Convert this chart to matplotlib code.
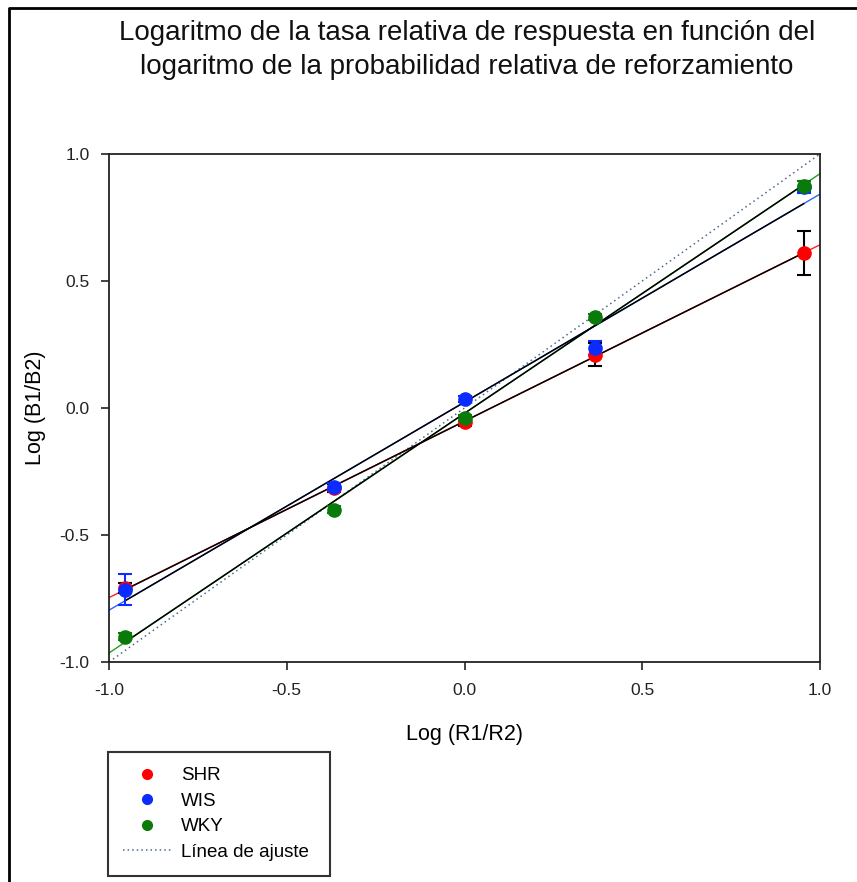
import numpy as np
import matplotlib
matplotlib.use("Agg")
import matplotlib.pyplot as plt
from matplotlib.lines import Line2D

plt.rcParams['font.family'] = ['Liberation Sans', 'DejaVu Sans']

# Log of relative reinforcement probability (0.1/0.9, 0.3/0.7, 0.5/0.5, 0.7/0.3, 0.9/0.1)
log_r = [-0.954, -0.368, 0.0, 0.368, 0.954]

strains = ["SHR", "WIS", "WKY"]
shr_y = [-0.71, -0.315, -0.055, 0.21, 0.61]
shr_err = [0.02, 0.015, 0.015, 0.045, 0.085]
wis_y = [-0.715, -0.31, 0.035, 0.235, 0.87]
wis_err = [0.06, 0.015, 0.012, 0.028, 0.025]
wky_y = [-0.90, -0.40, -0.04, 0.36, 0.875]
wky_err = [0.015, 0.015, 0.012, 0.012, 0.02]

point_colors = ["#ff0000", "#0a2cff", "#0a7a0a"]
fit_colors = ["#ff2020", "#3060ff", "#20a020"]
err_colors = ["black", "#0a2cff", "#0a7a0a"]

fig = plt.figure(figsize=(8.57, 8.82), dpi=100)
ax = fig.add_axes([109/857, 1-662/882, (820-109)/857, (662-154)/882])

x = np.array(log_r)
x_full = np.array([-1.0, 1.0])
x_span = np.array([x.min(), x.max()])

# identity reference line
ax.plot(x_full, x_full, linestyle=(0, (1, 2.2)), color="#4a6a8a", lw=1.1, zorder=1)

for ys, errs, pc, fc, ec in zip([shr_y, wis_y, wky_y], [shr_err, wis_err, wky_err],
                                point_colors, fit_colors, err_colors):
    y = np.array(ys)
    slope, intercept = np.polyfit(x, y, 1)
    ax.plot(x_full, slope*x_full + intercept, color=fc, lw=1.0, zorder=2)
    ax.plot(x_span, slope*x_span + intercept, color="black", lw=1.1, zorder=3)
    ax.errorbar(x, y, yerr=errs, fmt="o", color=pc, ecolor=ec, markersize=9.5,
                elinewidth=1.5, capsize=5, capthick=1.5, zorder=4)

ax.set_xlim(-1, 1)
ax.set_ylim(-1, 1)
ticks = [-1.0, -0.5, 0.0, 0.5, 1.0]
ax.set_xticks(ticks)
ax.set_yticks(ticks)
ax.set_xticklabels([f"{t:.1f}" for t in ticks], fontsize=12.5)
ax.set_yticklabels([f"{t:.1f}" for t in ticks], fontsize=12.5)
ax.tick_params(axis="x", pad=9)
ax.tick_params(axis="y", pad=8)
ax.tick_params(direction="out", length=6, width=1.2, colors="#222222")
for s in ax.spines.values():
    s.set_linewidth(1.3)
    s.set_color("#222222")

ax.set_xlabel("Log (R1/R2)", fontsize=15.5, labelpad=19)
ax.set_ylabel("Log (B1/B2)", fontsize=15.5, labelpad=10)

fig.text(467/857, 1-50/882,
         "Logaritmo de la tasa relativa de respuesta en función del\n"
         "logaritmo de la probabilidad relativa de reforzamiento",
         ha="center", va="center", fontsize=20, linespacing=1.45, color="#111111")

handles = [Line2D([], [], marker="o", ls="none", color=c, markersize=7) for c in point_colors]
handles.append(Line2D([], [], ls=(0, (1, 2)), color="#4a6a8a", lw=1.1))
labels = strains + ["Línea de ajuste"]
leg = fig.legend(handles, labels, loc="upper left",
                 bbox_to_anchor=(108/857, 1-752/882, (330-108)/857, 0),
                 mode="expand", fontsize=13.5, frameon=True, fancybox=False,
                 edgecolor="black", labelspacing=0.45, handlelength=2.6,
                 handletextpad=0.5, borderpad=0.8, borderaxespad=0)
leg.get_frame().set_linewidth(1.5)

# outer border on the left and top
fig.add_artist(Line2D([9/857, 9/857, 1.0], [0.0, 1-8/882, 1-8/882],
                      transform=fig.transFigure, color="black", lw=2))

fig.savefig("out.png", dpi=100)
